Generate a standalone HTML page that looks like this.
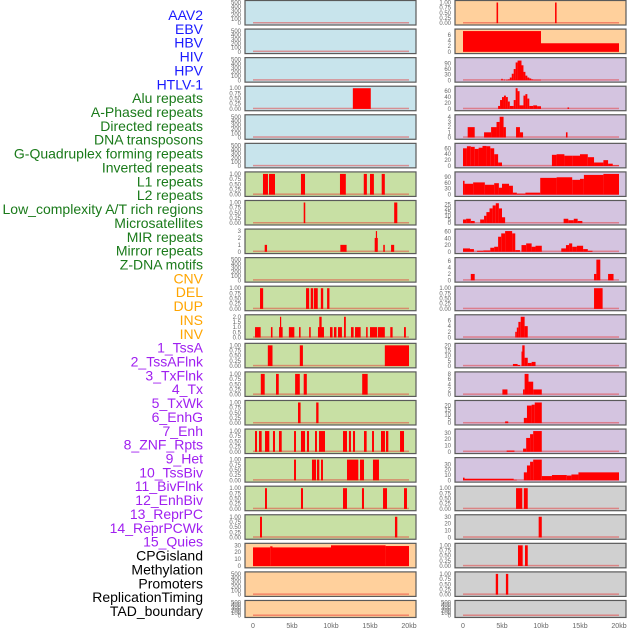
<!DOCTYPE html>
<html><head><meta charset="utf-8">
<style>
html,body{margin:0;padding:0;background:#fff;width:630px;height:630px;overflow:hidden}
svg{display:block;font-family:"Liberation Sans",sans-serif}
</style></head>
<body>
<svg id="chart" width="630" height="630" viewBox="0 0 630 630" xmlns="http://www.w3.org/2000/svg"></svg>
<script>
// ---- labels ----
const trackLabels = ["AAV2","EBV","HBV","HIV","HPV","HTLV-1","Alu repeats","A-Phased repeats","Directed repeats","DNA transposons","G-Quadruplex forming repeats","Inverted repeats","L1 repeats","L2 repeats","Low_complexity A/T rich regions","Microsatellites","MIR repeats","Mirror repeats","Z-DNA motifs","CNV","DEL","DUP","INS","INV","1_TssA","2_TssAFlnk","3_TxFlnk","4_Tx","5_TxWk","6_EnhG","7_Enh","8_ZNF_Rpts","9_Het","10_TssBiv","11_BivFlnk","12_EnhBiv","13_ReprPC","14_ReprPCWk","15_Quies","CPGisland","Methylation","Promoters","ReplicationTiming","TAD_boundary"];
const labelGroups = [6,13,5,15,5];
const groupColors = ["#1a1aff","#1a7a1a","#ffa500","#a020f0","#000000"];
// ---- x axis ----
const xTicks = [0,5,10,15,20];
const xTickLabels = ["0","5kb","10kb","15kb","20kb"];
// ---- panel y maxima ----
const leftMax  = [500,500,500,1,500,500,1,1,3,500,1,2,1,1,1,1,1,1,1,30,500,500];
const rightMax = [1,7.3,110,70,4,70,105,28,62,6.5,1,7.3,20,8,23.5,33,39,1,30,1,1,500];
// ---- left column segments [startKb, endKb, value] ----
const leftSegs = [
 [],[],[],
 [[12.8,15.1,1]],
 [],[],
 [[1.28,1.92,1],[2.05,2.82,1],[6.15,6.67,1],[11.15,11.9,1],[14.2,14.6,1],[15.0,15.5,1],[16.5,16.9,1]],
 [[6.5,6.7,1],[18.1,18.5,1]],
 [[1.5,1.8,1],[11.2,12.0,1],[15.6,16.0,2],[15.75,15.9,3],[16.7,16.9,1],[17.7,18.1,1]],
 [],
 [[0.9,1.3,1],[6.8,7.2,1],[7.4,7.7,1],[7.8,8.3,1],[8.7,9.0,1],[9.5,9.8,1]],
 [[0.26,0.98,1],[2.3,2.5,1],[3.34,3.8,1],[3.46,3.6,2],[4.6,5.3,1],[5.9,6.1,1],[7.2,7.4,1],[8.33,9.1,1],[8.5,8.8,2],[9.87,10.2,1],[10.38,10.7,1],[10.9,11.4,1],[11.67,11.9,2],[12.56,12.9,1],[13.08,13.8,1],[14.5,14.7,1],[15.0,15.9,1],[16.0,16.9,1],[17.6,17.9,1],[19.36,19.6,1]],
 [[1.9,2.5,1],[6.0,6.4,1],[16.9,20.0,1]],
 [[1.0,1.5,1],[2.95,3.3,1],[5.4,6.0,1],[6.5,6.9,1],[14.0,14.7,1]],
 [[5.77,6.1,1],[8.1,8.4,1]],
 [[0.26,0.51,1],[0.77,1.11,1],[1.54,2.09,1],[2.56,2.82,1],[3.33,3.68,1],[5.26,5.51,1],[6.15,6.67,1],[6.92,7.18,1],[7.95,8.2,1],[8.46,9.23,1],[11.54,12.05,1],[12.3,12.56,1],[12.82,13.08,1],[14.23,14.57,1],[15.26,15.51,1],[16.41,16.92,1],[17.05,17.35,1],[18.85,19.36,1]],
 [[5.26,5.51,1],[7.56,8.08,1],[8.2,8.5,1],[8.72,8.97,1],[12.05,12.82,1],[12.82,13.5,1],[13.72,14.23,1],[15.38,16.15,1]],
 [[1.54,1.79,1],[6.15,6.41,1],[11.54,12.05,1],[13.97,14.23,1],[16.67,17.18,1],[19.36,19.74,1]],
 [[0.9,1.15,1],[18.2,18.5,1]],
 [[0,2.2,27],[2.2,2.5,28.5],[2.5,10,27],[10,17,30],[17,20,29]],
 [],[]
];
// ---- right column segments ----
const rightSegs = [
 [[4.3,4.5,1],[11.8,12.0,1]],
 [[0,10,7.3],[10,20,3]],
 [[4.9,5.1,8],[5.2,5.4,4],[5.5,5.75,3],[5.75,6.0,5],[6.0,6.25,15],[6.25,6.5,35],[6.5,6.75,60],[6.75,7.0,95],[7.0,7.5,105],[7.5,7.75,80],[7.75,8.0,45],[8.0,8.25,25],[8.25,8.5,15],[8.5,8.75,10],[8.75,9.0,5],[9.0,10.0,3]],
 [[4.5,4.75,10],[4.75,5.0,30],[5.0,5.25,40],[5.25,5.5,45],[5.5,5.75,40],[5.75,6.0,25],[6.0,6.5,10],[6.5,6.75,30],[6.75,7.0,70],[7.0,7.25,60],[7.25,7.75,12],[7.75,8.0,45],[8.0,8.25,50],[8.25,8.5,35],[8.5,9.0,10],[9.0,9.5,12],[9.5,10.0,9],[13.4,13.6,5]],
 [[0.6,1.5,2],[2.7,3.6,1],[3.6,4.3,2],[4.3,4.7,3],[4.7,5.2,4],[5.2,5.5,2],[6.8,7.3,2],[7.3,7.7,1],[13.2,13.4,1]],
 [[0,0.5,60],[0.5,1.0,67],[1.0,1.5,65],[1.5,2.0,58],[2.0,2.5,62],[2.5,3.0,68],[3.0,3.5,67],[3.5,4.0,60],[4.0,4.5,40],[4.5,5.0,12],[11.4,12,38],[12,13,40],[13,14,35],[14,15,35],[15,16,40],[16,16.8,30],[16.8,18.0,12],[18.0,18.6,20],[18.6,19.2,8],[19.2,20,2]],
 [[0,0.2,70],[0.2,1.3,55],[1.3,2.8,62],[2.8,4.0,50],[4.0,4.6,58],[4.6,5.0,35],[5.0,5.9,55],[5.9,6.4,45],[6.4,6.9,10],[6.9,8.0,5],[8.0,9.9,10],[9.9,12,85],[12,14,88],[14,15,75],[15,15.5,80],[15.5,18,100],[18,20,105]],
 [[0,0.4,5],[0.4,1.0,6],[1.0,1.5,3],[2.2,2.7,5],[2.7,3.0,10],[3.0,3.4,15],[3.4,3.8,20],[3.8,4.2,24],[4.2,4.6,27],[4.6,5.0,20],[5.0,5.4,8],[12.9,13.5,6],[13.5,14.2,4],[14.2,14.7,6],[14.7,15.3,3]],
 [[0,0.9,10],[0.9,1.4,8],[1.8,2.6,3],[2.6,3.5,4],[3.5,4.0,12],[4.0,4.5,15],[4.5,4.9,45],[4.9,5.4,55],[5.4,6.3,62],[6.3,6.7,55],[6.7,7.3,5],[7.5,8.1,20],[8.1,8.8,25],[8.8,9.3,15],[9.3,10.1,18],[12.6,13.2,10],[13.2,13.6,20],[13.6,14.0,25],[14.0,14.6,15],[14.6,15.4,18],[15.4,16.0,8],[16.0,16.6,3]],
 [[1.0,1.5,2],[16.8,17.1,2],[17.1,17.6,6.5],[18.6,19.3,2]],
 [[16.8,17.9,1]],
 [[6.7,6.9,2],[6.9,7.1,3.5],[7.1,7.4,5.5],[7.4,7.9,7.3],[7.9,8.3,4]],
 [[6.4,7.0,2],[7.0,7.3,1],[7.5,7.6,14],[7.6,7.9,20],[7.9,8.3,8],[8.3,8.8,3],[8.8,9.3,4]],
 [[5.05,5.7,2],[7.7,7.9,2],[7.9,8.4,8],[8.4,9.0,5],[9.0,10.1,2]],
 [[5.4,5.8,2],[7.8,8.2,6],[8.2,8.8,20],[8.8,9.2,21],[9.2,10.1,23.5]],
 [[5.6,6.6,2],[7.7,8.1,5],[8.1,8.6,22],[8.6,9.0,28],[9.0,10.1,33]],
 [[0,0.2,5],[0.2,6.5,3],[6.5,6.9,1],[7.8,8.2,15],[8.2,8.6,28],[8.6,9.0,35],[9.0,10.1,39],[10.1,11.4,8],[11.4,13.3,10],[13.3,13.9,9],[13.9,14.8,11],[14.8,20,15]],
 [[6.8,7.6,1],[7.8,8.3,1]],
 [[9.7,10.1,30]],
 [[7.05,7.65,1],[7.95,8.3,1]],
 [[4.2,4.5,1],[5.5,5.8,1]],
 []
];
// ---- tick labels per max ----
const tickSets = {
 "500":[0,100,200,300,400,500],
 "1":[0,0.25,0.5,0.75,1],
 "2":[0,0.5,1,1.5,2],
 "3":[0,1,2,3],
 "4":[0,1,2,3,4],
 "30":[0,10,20,30],
 "7.3":[0,2,4,6],
 "6.5":[0,2,4,6],
 "8":[0,2,4,6,8],
 "110":[0,30,60,90],
 "105":[0,30,60,90],
 "70":[0,20,40,60],
 "62":[0,20,40,60],
 "28":[0,5,10,15,20,25],
 "20":[0,5,10,15,20],
 "23.5":[0,5,10,15,20],
 "33":[0,10,20,30],
 "39":[0,10,20,30]
};
const leftBg  = ["#c8e4ec","#c8e4ec","#c8e4ec","#c8e4ec","#c8e4ec","#c8e4ec","#c8e0a4","#c8e0a4","#c8e0a4","#c8e0a4","#c8e0a4","#c8e0a4","#c8e0a4","#c8e0a4","#c8e0a4","#c8e0a4","#c8e0a4","#c8e0a4","#c8e0a4","#ffd09c","#ffd09c","#ffd09c"];
const rightBg = ["#ffd09c","#ffd09c","#d4c4e0","#d4c4e0","#d4c4e0","#d4c4e0","#d4c4e0","#d4c4e0","#d4c4e0","#d4c4e0","#d4c4e0","#d4c4e0","#d4c4e0","#d4c4e0","#d4c4e0","#d4c4e0","#d4c4e0","#d0d0d0","#d0d0d0","#d0d0d0","#d0d0d0","#d0d0d0"];

const NS="http://www.w3.org/2000/svg";
const svg=document.getElementById('chart');
function mk(tag,attrs,parent){const e=document.createElementNS(NS,tag);for(const k in attrs)e.setAttribute(k,attrs[k]);(parent||svg).appendChild(e);return e;}

const cols=[{x0:245,x1:416,dataX0:253,bg:leftBg,segs:leftSegs,max:leftMax,name:'left'},
            {x0:455,x1:626,dataX0:463,bg:rightBg,segs:rightSegs,max:rightMax,name:'right'}];
const pxPerKb=7.8;
function xScale(col,kb){return col.dataX0+kb*pxPerKb;}
function rowTop(i){return 0.5+i*28.57;}
function rowH(i){return i===21?17:24.5;}
function yScale(i,max,v){const t=rowTop(i),h=rowH(i);const y0=t+h-1.8,y1=t+2;return y0-(v/max)*(y0-y1);}
function fmt(v,max){if(max===1)return v.toFixed(2);if(max===2)return v.toFixed(1);return String(v);}

// labels
let li=0;
labelGroups.forEach((n,g)=>{for(let k=0;k<n;k++){const t=mk('text',{x:203,y:15+li*13.86+5,'text-anchor':'end','font-size':'14',fill:groupColors[g]});


t.textContent=trackLabels[li];li++;}});

cols.forEach(col=>{
 for(let i=0;i<22;i++){
  const g=mk('g',{});
  
  
  const t=rowTop(i),h=rowH(i),max=col.max[i];
  mk('rect',{x:col.x0,y:t,width:col.x1-col.x0,height:h,fill:col.bg[i],stroke:'#5a5a5a','stroke-width':1.2},g);
  // ticks
  const ticks=tickSets[String(max)]||[0,max];
  ticks.forEach(v=>{const tx=mk('text',{x:col.x0-4,y:yScale(i,max,v)+2,'text-anchor':'end','font-size':'6',fill:'#666'},g);
   
   
   tx.textContent=fmt(v,max);});
  // baseline
  const bl=mk('rect',{x:xScale(col,0),y:yScale(i,max,0)-1.2,width:20*pxPerKb,height:1.5,fill:'rgba(230,40,40,0.45)'},g);
  
  
  col.segs[i].forEach(s=>{
   const x=xScale(col,s[0]),w=Math.max(1.2,(s[1]-s[0])*pxPerKb),y=yScale(i,max,s[2]);
   const r=mk('rect',{x:x,y:y,width:w,height:yScale(i,max,0)-y,fill:'#ff0000'},g);
   
   
  });
 }
 xTicks.forEach((v,k)=>{const tx=mk('text',{x:xScale(col,v),y:628,'text-anchor':'middle','font-size':'7',fill:'#666'});
  
  
  tx.textContent=xTickLabels[k];});
});
</script>
</body></html>
